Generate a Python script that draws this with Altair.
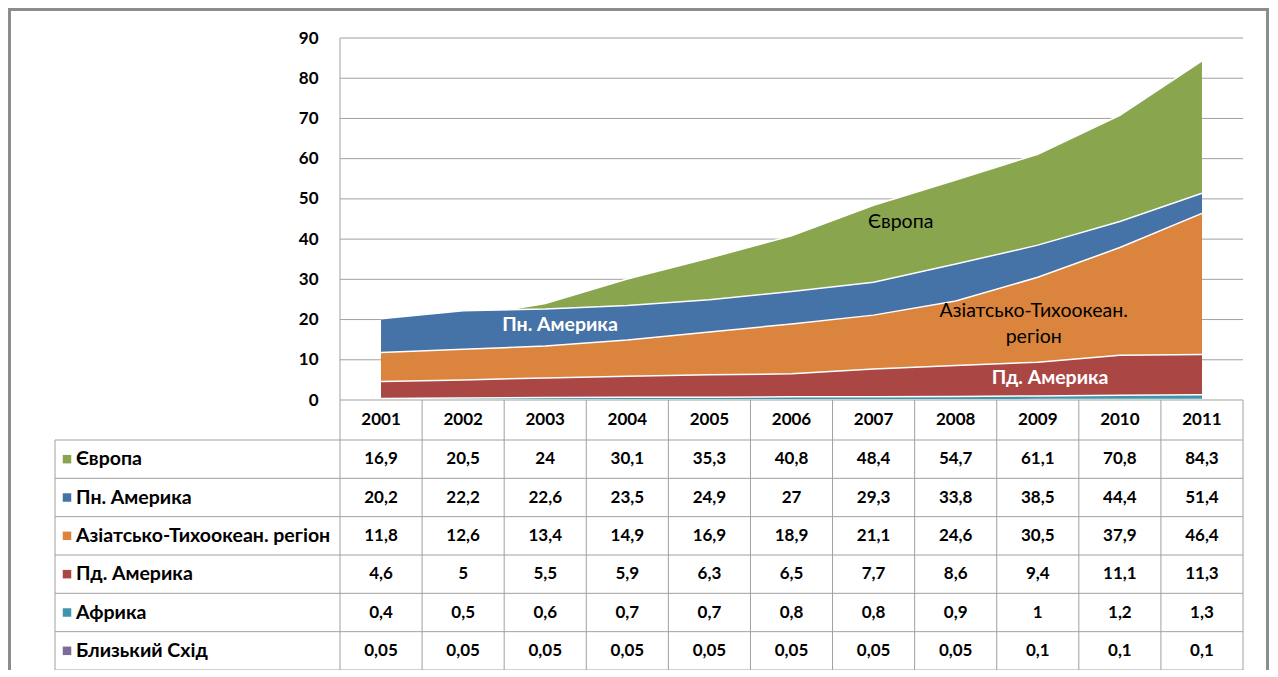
import altair as alt
import pandas as pd

# ---------------- data ----------------
years = [2001, 2002, 2003, 2004, 2005, 2006, 2007, 2008, 2009, 2010, 2011]
series_names = ["Європа", "Пн. Америка", "Азіатсько-Тихоокеан. регіон",
                "Пд. Америка", "Африка", "Близький Схід"]
europe = [16.9, 20.5, 24, 30.1, 35.3, 40.8, 48.4, 54.7, 61.1, 70.8, 84.3]
n_america = [20.2, 22.2, 22.6, 23.5, 24.9, 27, 29.3, 33.8, 38.5, 44.4, 51.4]
asia_pacific = [11.8, 12.6, 13.4, 14.9, 16.9, 18.9, 21.1, 24.6, 30.5, 37.9, 46.4]
s_america = [4.6, 5, 5.5, 5.9, 6.3, 6.5, 7.7, 8.6, 9.4, 11.1, 11.3]
africa = [0.4, 0.5, 0.6, 0.7, 0.7, 0.8, 0.8, 0.9, 1, 1.2, 1.3]
middle_east = [0.05, 0.05, 0.05, 0.05, 0.05, 0.05, 0.05, 0.05, 0.1, 0.1, 0.1]
series_values = [europe, n_america, asia_pacific, s_america, africa, middle_east]
colors = ["#89A54E", "#4572A7", "#DB843D", "#AA4643", "#3D96AE", "#80699B"]
y_ticks = [0, 10, 20, 30, 40, 50, 60, 70, 80, 90]

# in-chart labels (text, year position, value position)
ann_text = ["Пн. Америка", "Європа", "Азіатсько-Тихоокеан.", "регіон", "Пд. Америка"]
ann_year = [2003.18, 2007.33, 2008.95, 2008.95, 2009.15]
ann_value = [18.65, 44.25, 22.1, 15.66, 5.47]
ann_color = ["white", "black", "black", "black", "white"]
ann_weight = ["bold", "normal", "normal", "normal", "bold"]

# ---------------- layout ----------------
PLOT_W, LABEL_W = 903, 285
PLOT_H, TABLE_H = 362, 270
HEADER_H = 40
NCOL = len(years)
COL_W = PLOT_W / NCOL
W, H = LABEL_W + PLOT_W, PLOT_H + TABLE_H
YMAX = 90
UNIT = PLOT_H / YMAX
X_MIN = -LABEL_W / COL_W
Y_MIN = -TABLE_H / UNIT
NROWS = len(series_names)
row_px = [0, HEADER_H] + [HEADER_H + (TABLE_H - HEADER_H) * k / NROWS for k in range(1, NROWS + 1)]
row_y = [-p / UNIT for p in row_px]
row_center = [(row_y[i] + row_y[i + 1]) / 2 for i in range(len(row_y) - 1)]

FONT = "Lato"
NUM_SIZE = 17
TXT_SIZE = 19.5
GRID = "#A0A0A0"

def fmt(v):
    s = ("%g" % v)
    return s.replace(".", ",")

xs = alt.Scale(domain=[X_MIN, NCOL], nice=False, zero=False)
ys = alt.Scale(domain=[Y_MIN, YMAX], nice=False, zero=False)
yaxis = alt.Axis(values=y_ticks, offset=-LABEL_W, domain=False, ticks=False, grid=False,
                 labelPadding=22, labelFont=FONT, labelFontSize=NUM_SIZE,
                 labelFontWeight="bold", labelColor="black", title=None)

def X(f):
    return alt.X(f, type="quantitative", scale=xs, axis=None)

def Y(f):
    return alt.Y(f, type="quantitative", scale=ys, axis=yaxis)

# area data
area_rows = []
for name, vals in zip(series_names, series_values):
    for i, (yr, v) in enumerate(zip(years, vals)):
        area_rows.append({"series": name, "year": yr, "xpos": yr - years[0] + 0.5, "value": v})
area_df = pd.DataFrame(area_rows)

layers = []

# frame
layers.append(alt.Chart(pd.DataFrame({"a": [0]})).mark_rect(
    fill="transparent", stroke="#8C8C8C", strokeWidth=3).encode(
    x=alt.value(-45.5), x2=alt.value(W + 24.5), y=alt.value(-28.5), y2=alt.value(H + 30)))

# gridlines
grid_df = pd.DataFrame({"y": [t for t in y_ticks if t > 0]})
grid_df["x"] = 0
grid_df["x2"] = NCOL
layers.append(alt.Chart(grid_df).mark_rule(color=GRID, strokeWidth=1).encode(
    x=X("x"), x2="x2", y=Y("y")))

# areas
for name, col in zip(series_names, colors):
    base = alt.Chart(area_df).transform_filter(alt.datum.series == name)
    layers.append(base.mark_area(color=col, opacity=1).encode(
        x=X("xpos"), y=Y("value"), y2=alt.datum(0)))
    layers.append(base.mark_line(color="white", strokeWidth=1.5).encode(
        x=X("xpos"), y=Y("value")))

# annotations
ann_df = pd.DataFrame({"text": ann_text, "year": ann_year, "value": ann_value,
                       "color": ann_color, "weight": ann_weight})
ann_df["xpos"] = ann_df["year"] - years[0] + 0.5
for w in ["bold", "normal"]:
    layers.append(alt.Chart(ann_df).transform_filter(alt.datum.weight == w).mark_text(
        font=FONT, fontSize=TXT_SIZE, fontWeight=w, align="center", baseline="middle").encode(
        x=X("xpos"), y=Y("value"), text="text",
        color=alt.Color("color:N", scale=None)))

# table lines
lines = []
lines.append({"x": 0, "x2": 0, "y": YMAX, "y2": row_y[-1]})
for c in range(1, NCOL + 1):
    lines.append({"x": c, "x2": c, "y": row_y[0], "y2": row_y[-1]})
lines.append({"x": X_MIN, "x2": X_MIN, "y": row_y[1], "y2": row_y[-1]})
lines.append({"x": 0, "x2": NCOL, "y": row_y[0], "y2": row_y[0]})
for r in range(1, len(row_y)):
    lines.append({"x": X_MIN, "x2": NCOL, "y": row_y[r], "y2": row_y[r]})
lines_df = pd.DataFrame(lines)
layers.append(alt.Chart(lines_df).mark_rule(color=GRID, strokeWidth=1).encode(
    x=X("x"), x2="x2", y=Y("y"), y2="y2"))

# header row (years)
hdr_df = pd.DataFrame({"text": [str(y) for y in years],
                       "xpos": [i + 0.5 for i in range(NCOL)],
                       "ypos": row_center[0]})
layers.append(alt.Chart(hdr_df).mark_text(font=FONT, fontSize=NUM_SIZE, fontWeight="bold",
                                          color="black", baseline="middle").encode(
    x=X("xpos"), y=Y("ypos"), text="text"))

# values
cells = []
for r, vals in enumerate(series_values):
    for i, v in enumerate(vals):
        cells.append({"text": fmt(v), "xpos": i + 0.5, "ypos": row_center[r + 1]})
cell_df = pd.DataFrame(cells)
layers.append(alt.Chart(cell_df).mark_text(font=FONT, fontSize=NUM_SIZE, fontWeight="bold",
                                           color="black", baseline="middle").encode(
    x=X("xpos"), y=Y("ypos"), text="text"))

# legend column
leg_df = pd.DataFrame({"text": series_names, "color": colors,
                       "ypos": row_center[1:], "xpos": X_MIN,
                       "sq": X_MIN + 12 / COL_W})
layers.append(alt.Chart(leg_df).mark_square(size=72, opacity=1).encode(
    x=X("sq"), y=Y("ypos"), color=alt.Color("color:N", scale=None)))
layers.append(alt.Chart(leg_df).mark_text(font=FONT, fontSize=TXT_SIZE, fontWeight="bold",
                                          color="black", align="left", baseline="middle",
                                          dx=21).encode(
    x=X("xpos"), y=Y("ypos"), text="text"))

chart = alt.layer(*layers).properties(
    width=W, height=H, autosize="none",
    padding={"left": 47, "top": 30, "right": 26, "bottom": 0}
).configure_view(strokeWidth=0)

chart.save("out.html", embed_options={"renderer": "svg", "actions": False})
